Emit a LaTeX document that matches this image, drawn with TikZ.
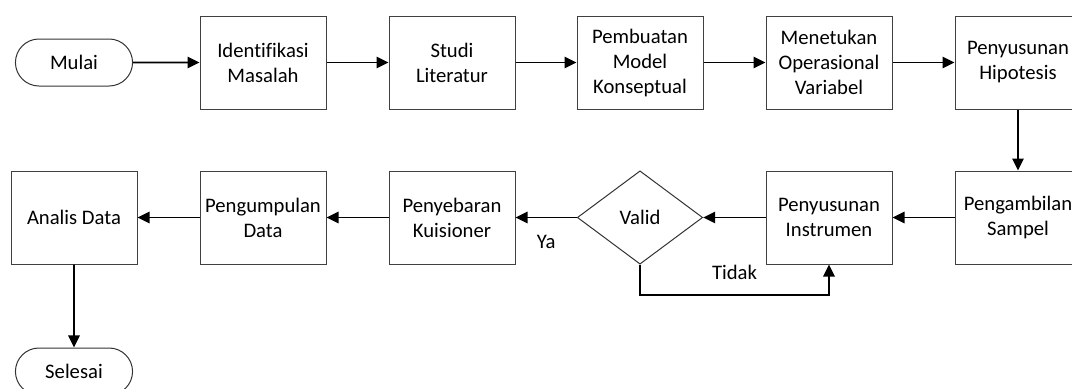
\documentclass[tikz,border=0pt]{standalone}
\usepackage{fontspec}
\setmainfont{Carlito}[Ligatures=NoCommon]
\usetikzlibrary{shapes.geometric,shapes.misc,arrows.meta}
\tikzset{
  prosesbox/.style={draw=black!75,line width=0.75pt,minimum width=94.5pt,minimum height=69.75pt,align=center,inner sep=1pt},
  terminal/.style={draw=black!80,rounded rectangle,line width=0.75pt,minimum width=94.5pt,minimum height=35.25pt},
  keputusan/.style={draw=black!80,diamond,aspect=1.34,line width=0.75pt,minimum width=94pt,minimum height=70pt,inner sep=0pt},
  alur/.style={line width=1.3pt,-{Triangle[length=9pt,width=8.5pt]}}
}
\begin{document}
\begin{tikzpicture}[x=0.75pt,y=-0.75pt,font=\fontsize{15.5}{18.75}\selectfont]
\useasboundingbox (0,0) rectangle (1072,389);
\clip (0,0) rectangle (1072,389);

% baris atas
\node[terminal] (mulai) at (74,62.5) {Mulai};
\node[prosesbox] (identifikasi) at (263,62.5) {Identifikasi\\Masalah};
\node[prosesbox] (studi) at (452,62.5) {Studi\\Literatur};
\node[prosesbox] (model) at (640,62.5) {Pembuatan\\Model\\Konseptual};
\node[prosesbox] (variabel) at (829,62.5) {Menetukan\\Operasional\\Variabel};
\node[prosesbox] (hipotesis) at (1018,62.5) {Penyusunan\\Hipotesis};

% baris bawah
\node[prosesbox] (analisis) at (74,217.5) {Analis Data};
\node[prosesbox] (pengumpulan) at (263,217.5) {Pengumpulan\\Data};
\node[prosesbox] (penyebaran) at (452,217.5) {Penyebaran\\Kuisioner};
\node[keputusan] (valid) at (640,217.5) {Valid};
\node[prosesbox] (instrumen) at (829,217.5) {Penyusunan\\Instrumen};
\node[prosesbox] (sampel) at (1018,217.5) {Pengambilan\\Sampel};

\node[terminal] (selesai) at (74,371.5) {Selesai};

\draw[alur] (mulai) -- (identifikasi);
\draw[alur] (identifikasi) -- (studi);
\draw[alur] (studi) -- (model);
\draw[alur] (model) -- (variabel);
\draw[alur] (variabel) -- (hipotesis);
\draw[alur] (hipotesis) -- (sampel);
\draw[alur] (sampel) -- (instrumen);
\draw[alur] (instrumen) -- (valid);
\draw[alur] (valid) -- node[below=9pt,pos=0.5]{Ya} (penyebaran);
\coordinate (balik) at ([yshift=-22.5pt]valid.south);
\draw[alur] (valid.south) -- (balik) -| node[pos=0.25,above=7pt]{Tidak} (instrumen.south);
\draw[alur] (penyebaran) -- (pengumpulan);
\draw[alur] (pengumpulan) -- (analisis);
\draw[alur] (analisis) -- (selesai);
\end{tikzpicture}
\end{document}
